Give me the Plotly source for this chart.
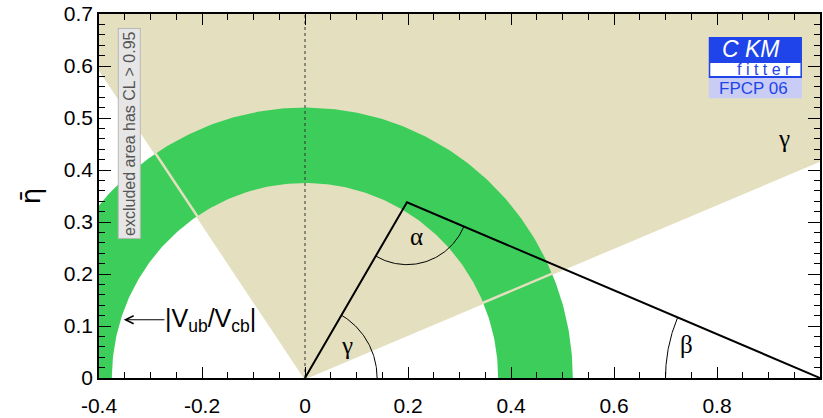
import numpy as np
import plotly.graph_objects as go

# Unitarity triangle apex (rho-bar, eta-bar)
apex_rho = 0.198
apex_eta = 0.338

# |Vub/Vcb| constraint: annulus radii around the origin
vub_r_inner = 0.375
vub_r_outer = 0.52

# gamma constraint: allowed wedge from the origin (degrees)
gamma_lo_deg = 22.7
gamma_hi_deg = 123.9

# angle-marker radii
gamma_arc_r = 0.14
alpha_arc_r = 0.12
beta_arc_r = 0.30

# axis ticks
x_tickvals = [-0.4, -0.2, 0.0, 0.2, 0.4, 0.6, 0.8, 1.0]
x_ticktext = ["-0.4", "-0.2", "0", "0.2", "0.4", "0.6", "0.8", "1"]
y_tickvals = [0.0, 0.1, 0.2, 0.3, 0.4, 0.5, 0.6, 0.7]
y_ticktext = ["0", "0.1", "0.2", "0.3", "0.4", "0.5", "0.6", "0.7"]

BEIGE = "#e3dfbf"
GREEN = "#3dcd5a"
BLUE = "#1f45ea"

fig = go.Figure()

# gamma wedge (extends beyond the visible window; clipped by the axes)
big_r = 3.0
wa = np.radians(np.linspace(gamma_lo_deg, gamma_hi_deg, 120))
wx = np.concatenate([[0.0], big_r * np.cos(wa), [0.0]])
wy = np.concatenate([[0.0], big_r * np.sin(wa), [0.0]])
fig.add_trace(go.Scatter(x=wx, y=wy, mode="lines", fill="toself",
                         fillcolor=BEIGE, line=dict(width=0), hoverinfo="skip"))

# |Vub/Vcb| annulus
ra = np.radians(np.linspace(0, 180, 240))
ax_ = np.concatenate([vub_r_outer * np.cos(ra), vub_r_inner * np.cos(ra[::-1])])
ay_ = np.concatenate([vub_r_outer * np.sin(ra), vub_r_inner * np.sin(ra[::-1])])
fig.add_trace(go.Scatter(x=ax_, y=ay_, mode="lines", fill="toself",
                         fillcolor=GREEN, line=dict(width=0), hoverinfo="skip"))

# wedge edges drawn over the annulus
for ang in (gamma_lo_deg, gamma_hi_deg):
    a = np.radians(ang)
    fig.add_trace(go.Scatter(x=[0, big_r * np.cos(a)], y=[0, big_r * np.sin(a)],
                             mode="lines", line=dict(color=BEIGE, width=2.5),
                             hoverinfo="skip"))

# rho-bar = 0 guide
fig.add_trace(go.Scatter(x=[0, 0], y=[0, 0.7], mode="lines",
                         line=dict(color="#333333", width=1, dash="3px,3px"),
                         hoverinfo="skip"))

# angle arcs
side_left = np.degrees(np.arctan2(apex_eta, apex_rho))
side_right = np.degrees(np.arctan2(apex_eta, apex_rho - 1.0))

g = np.radians(np.linspace(0, side_left, 60))
fig.add_trace(go.Scatter(x=gamma_arc_r * np.cos(g), y=gamma_arc_r * np.sin(g),
                         mode="lines", line=dict(color="black", width=1),
                         hoverinfo="skip"))

al = np.radians(np.linspace(side_left + 180, 360 + np.degrees(np.arctan2(-apex_eta, 1.0 - apex_rho)), 80))
fig.add_trace(go.Scatter(x=apex_rho + alpha_arc_r * np.cos(al),
                         y=apex_eta + alpha_arc_r * np.sin(al),
                         mode="lines", line=dict(color="black", width=1),
                         hoverinfo="skip"))

b = np.radians(np.linspace(side_right, 180, 60))
fig.add_trace(go.Scatter(x=1.0 + beta_arc_r * np.cos(b), y=beta_arc_r * np.sin(b),
                         mode="lines", line=dict(color="black", width=1),
                         hoverinfo="skip"))

# unitarity triangle
fig.add_trace(go.Scatter(x=[0, apex_rho, 1.0], y=[0, apex_eta, 0], mode="lines",
                         line=dict(color="black", width=2), hoverinfo="skip"))

greek = dict(family="Liberation Serif", size=25, color="black")
annotations = [
    dict(x=0.082, y=0.063, text="γ", font=greek),
    dict(x=0.217, y=0.272, text="α", font=greek),
    dict(x=0.740, y=0.065, text="β", font=greek),
    dict(x=0.930, y=0.460, text="γ", font=greek),
    dict(x=-0.342, y=0.471, text="excluded area has CL > 0.95", textangle=-90,
         font=dict(family="Liberation Sans", size=16, color="#555555"),
         bgcolor="#e6e6e6", bordercolor="#b8b8b8", borderwidth=1, borderpad=2),
    dict(x=-0.276, y=0.112, text="|V<sub>ub</sub>/V<sub>cb</sub>|", xanchor="left",
         font=dict(family="Liberation Sans", size=25, color="black")),
    dict(x=-0.352, y=0.112, ax=-0.27, ay=0.112, axref="x", ayref="y", text="",
         showarrow=True, arrowhead=5, arrowsize=1.6, arrowwidth=1, arrowcolor="black"),
    # logo
    dict(x=0.866, y=0.632, text="<i>C KM</i>",
         font=dict(family="Liberation Sans", size=23, color="white")),
    dict(x=0.892, y=0.594, text="f i t t e r",
         font=dict(family="Liberation Sans", size=16, color=BLUE)),
    dict(x=0.870, y=0.557, text="FPCP 06",
         font=dict(family="Liberation Sans", size=17, color=BLUE)),
]
for a in annotations:
    a.setdefault("showarrow", False)
    a.setdefault("xref", "x")
    a.setdefault("yref", "y")

shapes = [
    dict(type="rect", x0=0.784, x1=0.965, y0=0.577, y1=0.656,
         fillcolor=BLUE, line=dict(width=0)),
    dict(type="rect", x0=0.787, x1=0.962, y0=0.581, y1=0.606,
         fillcolor="white", line=dict(width=0)),
    dict(type="rect", x0=0.784, x1=0.965, y0=0.538, y1=0.577,
         fillcolor="#c9cdf5", line=dict(width=0)),
]

axis_common = dict(showgrid=False, zeroline=False, showline=True, linecolor="black",
                   linewidth=1.5, ticks="inside", tickcolor="black", tickwidth=1,
                   mirror="allticks",
                   tickfont=dict(family="Liberation Sans", size=21, color="black"))

fig.update_layout(
    width=823, height=418,
    margin=dict(l=99, r=1, t=14, b=40),
    paper_bgcolor="white", plot_bgcolor="white",
    showlegend=False,
    annotations=annotations, shapes=shapes,
    xaxis=dict(range=[-0.4, 1.0], tickmode="array", tickvals=x_tickvals,
               ticktext=x_ticktext, ticklen=11, ticklabelstandoff=8,
               minor=dict(ticks="inside", dtick=0.05, tick0=0, ticklen=6,
                          tickcolor="black", showgrid=False),
               **axis_common),
    yaxis=dict(range=[0, 0.7], tickmode="array", tickvals=y_tickvals,
               ticktext=y_ticktext, ticklen=12,
               title=dict(text="η̄", standoff=16,
                          font=dict(family="DejaVu Sans", size=26, color="black")),
               minor=dict(ticks="inside", dtick=0.02, tick0=0, ticklen=6,
                          tickcolor="black", showgrid=False),
               **axis_common),
)

fig.write_html("out.html")
